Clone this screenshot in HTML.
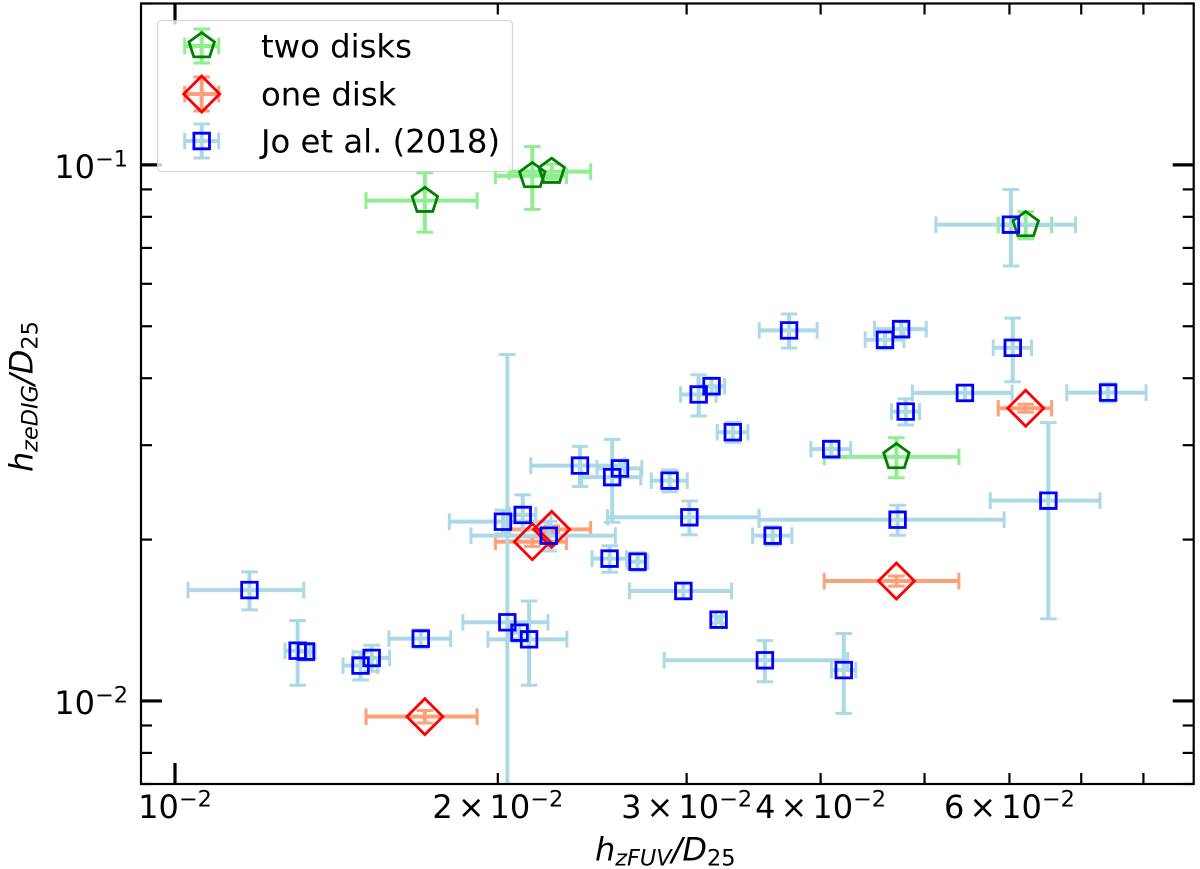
<!DOCTYPE html>
<html lang="en">
<head>
<meta charset="utf-8">
<title>Scale height scatter chart</title>
<style>
html,body{margin:0;padding:0;background:#fff;width:1200px;height:869px;overflow:hidden}
svg{display:block}
text{font-family:"DejaVu Sans","Liberation Sans",sans-serif;fill:#000}
.it{font-style:italic}
</style>
</head>
<body>
<svg id="chart" xmlns="http://www.w3.org/2000/svg" width="1200" height="869" viewBox="0 0 1200 869">
  <defs>
    <clipPath id="plot-clip"><rect x="141" y="3.5" width="1052.7" height="780.5"/></clipPath>
  </defs>
  <rect x="0" y="0" width="1200" height="869" fill="#fff"/>
  <g id="bars" clip-path="url(#plot-clip)"></g>
  <g id="marks" clip-path="url(#plot-clip)"></g>
  <g id="ticks"></g>
  <rect x="141" y="3.5" width="1052.7" height="780.5" fill="none" stroke="#000" stroke-width="2.2"/>
  <g id="tick-labels"></g>
  <text x="595" y="860.7" font-size="32"><tspan class="it">h</tspan><tspan class="it" font-size="22.4" dy="5">zFUV</tspan><tspan class="it" dy="-5">/D</tspan><tspan font-size="22.4" dy="5">25</tspan></text>
  <text transform="translate(32.5,472) rotate(-90)" x="0" y="0" font-size="32"><tspan class="it">h</tspan><tspan class="it" font-size="22.4" dy="5">zeDIG</tspan><tspan class="it" dy="-5">/D</tspan><tspan font-size="22.4" dy="5">25</tspan></text>
  <g id="legend">
    <rect x="157.5" y="20.5" width="355" height="151" rx="4" ry="4" fill="#fff" fill-opacity="0.8" stroke="#ccc" stroke-opacity="0.8" stroke-width="1.3"/>
    <g id="legend-handles"></g>
    <text x="261" y="57.3" font-size="32.3">two disks</text>
    <text x="261" y="105.3" font-size="32.3">one disk</text>
    <text x="261" y="152.7" font-size="32.3">Jo et al. (2018)</text>
  </g>
</svg>
<script>
// Axis limits
const xMin = 0.009296, xMax = 0.08912;
const yMin = 0.007, yMax = 0.2;

// Ticks
const xMajorTicks = [0.01];
const xMinorTicks = [0.02, 0.03, 0.04, 0.05, 0.06, 0.07, 0.08, 0.09];
const yMajorTicks = [0.1, 0.01];
const yMinorTicks = [0.2, 0.09, 0.08, 0.07, 0.06, 0.05, 0.04, 0.03, 0.02, 0.009, 0.008, 0.007];
const xLabelTicks = [0.01, 0.02, 0.03, 0.04, 0.06];
const xLabelMantissas = ['', '2', '3', '4', '6'];
const yLabelTicks = [0.1, 0.01];
const yLabelExponents = ['\u22121', '\u22122'];

// Series: two disks
const twoDisksX = [0.017101, 0.021538, 0.022452, 0.06213, 0.04707];
const twoDisksXErr = [0.00203, 0.00164, 0.00196, 0.00355, 0.00676];
const twoDisksY = [0.08577, 0.09538, 0.09716, 0.07726, 0.02853];
const twoDisksYErr = [0.01087, 0.01277, 0.00310, 0.00450, 0.00244];

// Series: one disk
const oneDiskX = [0.017101, 0.021538, 0.022452, 0.04707, 0.06213];
const oneDiskXErr = [0.00203, 0.00164, 0.00196, 0.00676, 0.00355];
const oneDiskY = [0.009348, 0.01982, 0.02090, 0.01674, 0.03516];
const oneDiskYErr = [0.00025, 0.00040, 0.00030, 0.00036, 0.00060];

// Series: Jo et al. (2018)
const joX = [0.011734, 0.013013, 0.013248, 0.014894, 0.015255, 0.016951, 0.020414, 0.020955, 0.021389, 0.020223, 0.021098, 0.022311, 0.023859, 0.025566, 0.025998, 0.028922, 0.025426, 0.027000, 0.030177, 0.04719, 0.036086, 0.029789, 0.032130, 0.035488, 0.042038, 0.06523, 0.06019, 0.06043, 0.05453, 0.074155, 0.04802, 0.04755, 0.04593, 0.03738, 0.03165, 0.030785, 0.033127, 0.040923];
const joXErr = [0.00145, 0.00035, 0.00026, 0.00055, 0.00060, 0.00112, 0.00186, 0.00040, 0.00181, 0.00220, 0.00060, 0.00343, 0.00239, 0.00162, 0.00125, 0.00112, 0.00094, 0.00060, 0.00486, 0.01213, 0.00152, 0.00325, 0.00020, 0.00690, 0.00110, 0.00765, 0.00896, 0.00248, 0.00582, 0.00630, 0.00145, 0.00264, 0.00191, 0.00232, 0.00090, 0.00117, 0.00109, 0.00175];
const joY = [0.01610, 0.01241, 0.01236, 0.01164, 0.01203, 0.01307, 0.01402, 0.01341, 0.01303, 0.02160, 0.02223, 0.02034, 0.02748, 0.02615, 0.02715, 0.02576, 0.01843, 0.01819, 0.02201, 0.02178, 0.02034, 0.01604, 0.01418, 0.01191, 0.01142, 0.02364, 0.07736, 0.04558, 0.03755, 0.03760, 0.03466, 0.04938, 0.04718, 0.04911, 0.03865, 0.03730, 0.03172, 0.02949];
const joYErr = [0.00131, 0.00171, 0.00045, 0.00070, 0.00067, 0.00050, 0.03027, 0.00050, 0.00233, 0.00110, 0.00200, 0.00130, 0.00236, 0.00460, 0.00100, 0.00120, 0.00105, 0.00070, 0.00160, 0.00140, 0.00080, 0.00055, 0.00020, 0.00105, 0.00194, 0.00941, 0.01260, 0.00619, 0.00125, 0.00145, 0.00195, 0.00180, 0.00180, 0.00358, 0.00140, 0.00330, 0.00135, 0.00110];

const PLOT_LEFT = 141, PLOT_RIGHT = 1193.7, PLOT_TOP = 3.5, PLOT_BOTTOM = 784;
const NS = 'http://www.w3.org/2000/svg';

function xScale(v) {
  return PLOT_LEFT + (PLOT_RIGHT - PLOT_LEFT) * (Math.log10(v) - Math.log10(xMin)) / (Math.log10(xMax) - Math.log10(xMin));
}
function yScale(v) {
  return PLOT_BOTTOM - (PLOT_BOTTOM - PLOT_TOP) * (Math.log10(v) - Math.log10(yMin)) / (Math.log10(yMax) - Math.log10(yMin));
}
function mk(tag, attrs, parent) {
  const el = document.createElementNS(NS, tag);
  for (const k in attrs) el.setAttribute(k, attrs[k]);
  parent.appendChild(el);
  return el;
}

const barsG = document.getElementById('bars');
const marksG = document.getElementById('marks');
const ticksG = document.getElementById('ticks');
const labelsG = document.getElementById('tick-labels');
const handlesG = document.getElementById('legend-handles');

const BAR_W = 4, CAP_W = 3, CAP = 8.3;

function drawErrorCross(parent, px, py, x0, x1, y0, y1, lowCap, color, name) {
  const g = mk('g', {stroke: color, fill: 'none'}, parent);
  
  
  mk('line', {x1: x0, x2: x1, y1: py, y2: py, 'stroke-width': BAR_W}, g);
  mk('line', {x1: px, x2: px, y1: y0, y2: y1, 'stroke-width': BAR_W}, g);
  [x0, x1].forEach(function (cx) {
    mk('line', {x1: cx, x2: cx, y1: py - CAP, y2: py + CAP, 'stroke-width': CAP_W}, g);
  });
  mk('line', {x1: px - CAP, x2: px + CAP, y1: y1, y2: y1, 'stroke-width': CAP_W}, g);
  if (lowCap) {
    mk('line', {x1: px - CAP, x2: px + CAP, y1: y0, y2: y0, 'stroke-width': CAP_W}, g);
  }
}

function markerPoints(shape, px, py) {
  if (shape === 'pentagon') {
    const R = 13.4, pts = [];
    for (let k = 0; k < 5; k++) {
      const a = -Math.PI / 2 + k * 2 * Math.PI / 5;
      pts.push((px + R * Math.cos(a)).toFixed(2) + ',' + (py + R * Math.sin(a)).toFixed(2));
    }
    return pts.join(' ');
  }
  if (shape === 'diamond') {
    const D = 18;
    return [px, py - D, px + D, py, px, py + D, px - D, py].join(' ');
  }
  const S = 7.8;
  return [px - S, py - S, px + S, py - S, px + S, py + S, px - S, py + S].join(' ');
}

function drawMarker(parent, shape, px, py, color, name) {
  const el = mk('polygon', {points: markerPoints(shape, px, py), fill: 'none', stroke: color, 'stroke-width': 2.8, 'stroke-linejoin': 'miter'}, parent);
  
  
}

const seriesList = [
  {name: 'two-disks', xs: twoDisksX, xe: twoDisksXErr, ys: twoDisksY, ye: twoDisksYErr, err: '#90ee90', edge: '#008000', shape: 'pentagon', legendY: 46},
  {name: 'one-disk', xs: oneDiskX, xe: oneDiskXErr, ys: oneDiskY, ye: oneDiskYErr, err: '#ffa07a', edge: '#ff0000', shape: 'diamond', legendY: 94},
  {name: 'jo-2018', xs: joX, xe: joXErr, ys: joY, ye: joYErr, err: '#add8e6', edge: '#0000ff', shape: 'square', legendY: 141}
];

// Error bars are all drawn first, then markers on top, series by series.
seriesList.forEach(function (s) {
  s.xs.forEach(function (xv, i) {
    const px = xScale(xv), py = yScale(s.ys[i]);
    const x0 = xScale(Math.max(xv - s.xe[i], xMin)), x1 = xScale(Math.min(xv + s.xe[i], xMax));
    const low = s.ys[i] - s.ye[i];
    const lowInRange = low > yMin;
    const y0 = yScale(lowInRange ? low : yMin), y1 = yScale(Math.min(s.ys[i] + s.ye[i], yMax));
    drawErrorCross(barsG, px, py, x0, x1, y0, y1, lowInRange, s.err, 'error-bar-' + s.name + '-' + i);
  });
});
seriesList.forEach(function (s) {
  s.xs.forEach(function (xv, i) {
    drawMarker(marksG, s.shape, xScale(xv), yScale(s.ys[i]), s.edge, 'point-' + s.name + '-' + i);
  });
});

// Ticks on all four sides, pointing inward
function drawXTick(v, len, w) {
  const px = xScale(v);
  if (px < PLOT_LEFT || px > PLOT_RIGHT) return;
  const b = mk('line', {x1: px, x2: px, y1: PLOT_BOTTOM, y2: PLOT_BOTTOM - len, stroke: '#000', 'stroke-width': w}, ticksG);
  
  
  const t = mk('line', {x1: px, x2: px, y1: PLOT_TOP, y2: PLOT_TOP + len, stroke: '#000', 'stroke-width': w}, ticksG);
  
  
}
function drawYTick(v, len, w) {
  const py = yScale(v);
  if (py < PLOT_TOP - 0.5 || py > PLOT_BOTTOM + 0.5) return;
  const l = mk('line', {x1: PLOT_LEFT, x2: PLOT_LEFT + len, y1: py, y2: py, stroke: '#000', 'stroke-width': w}, ticksG);
  
  
  const r = mk('line', {x1: PLOT_RIGHT, x2: PLOT_RIGHT - len, y1: py, y2: py, stroke: '#000', 'stroke-width': w}, ticksG);
  
  
}
xMajorTicks.forEach(function (v) { drawXTick(v, 21, 3.2); });
xMinorTicks.forEach(function (v) { drawXTick(v, 11, 2.2); });
yMajorTicks.forEach(function (v) { drawYTick(v, 21, 3.2); });
yMinorTicks.forEach(function (v) { drawYTick(v, 11, 2.2); });

// Tick labels
xLabelTicks.forEach(function (v, i) {
  const t = mk('text', {x: xScale(v), y: 818, 'font-size': 32, 'text-anchor': 'middle'}, labelsG);
  
  
  const m = xLabelMantissas[i];
  if (m) {
    const a = mk('tspan', {}, t);
    a.textContent = m;
    const b = mk('tspan', {dx: 5}, t);
    b.textContent = '\u00d7';
    const c = mk('tspan', {dx: 5}, t);
    c.textContent = '10';
  } else {
    const c = mk('tspan', {}, t);
    c.textContent = '10';
  }
  const e = mk('tspan', {'font-size': 22.4, dy: -11.3}, t);
  e.textContent = '\u22122';
});
yLabelTicks.forEach(function (v, i) {
  const t = mk('text', {x: 128, y: yScale(v) + 13, 'font-size': 32, 'text-anchor': 'end'}, labelsG);
  
  
  const c = mk('tspan', {}, t);
  c.textContent = '10';
  const e = mk('tspan', {'font-size': 22.4, dy: -11.3}, t);
  e.textContent = yLabelExponents[i];
});

// Legend handles
seriesList.forEach(function (s) {
  const hx = 201.7, hy = s.legendY;
  drawErrorCross(handlesG, hx, hy, hx - 17, hx + 17, hy + 17, hy - 17, true, s.err, 'legend-error-' + s.name);
  drawMarker(handlesG, s.shape, hx, hy, s.edge, 'legend-marker-' + s.name);
});
</script>
</body>
</html>
